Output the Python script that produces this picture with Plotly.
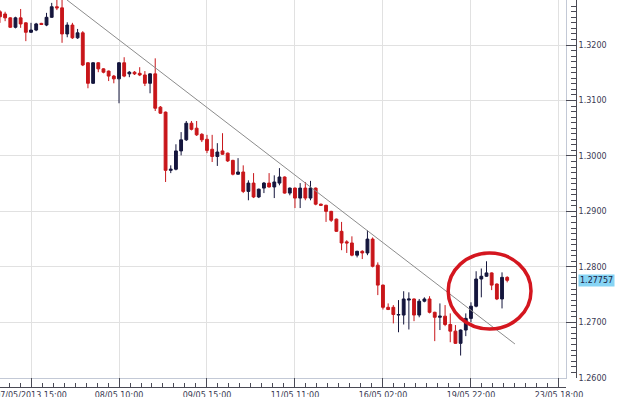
import plotly.graph_objects as go

# ---- data ----
open_ = [1.3260,1.3256,1.3249,1.3232,1.3249,1.3240,1.3223,1.3227,1.3239,1.3236,
         1.3250,1.3269,1.3267,1.3220,1.3236,1.3213,1.3222,1.3168,1.3131,1.3168,
         1.3157,1.3153,1.3144,1.3139,1.3168,1.3148,1.3151,1.3149,1.3146,1.3131,
         1.3148,1.3088,1.3079,1.2974,1.2976,1.3009,1.3029,1.3059,1.3050,1.3039,
         1.3030,1.3012,1.2999,1.3009,1.3005,1.2992,1.2967,1.2971,1.2936,1.2951,
         1.2926,1.2942,1.2951,1.2944,1.2951,1.2962,1.2933,1.2942,1.2924,1.2942,
         1.2924,1.2942,1.2913,1.2911,1.2900,1.2886,1.2864,1.2845,1.2843,1.2821,
         1.2828,1.2825,1.2850,1.2803,1.2767,1.2727,1.2727,1.2713,1.2713,1.2740,
         1.2742,1.2713,1.2738,1.2742,1.2718,1.2709,1.2711,1.2696,1.2684,1.2662,
         1.2686,1.2707,1.2729,1.2778,1.2783,1.2789,1.2769,1.2742,1.2781]
high = [1.3263,1.3260,1.3250,1.3251,1.3265,1.3241,1.3240,1.3240,1.3240,1.3258,
        1.3276,1.3285,1.3284,1.3241,1.3240,1.3229,1.3225,1.3169,1.3169,1.3169,
        1.3158,1.3154,1.3146,1.3169,1.3178,1.3153,1.3153,1.3160,1.3153,1.3149,
        1.3176,1.3090,1.3080,1.2983,1.3021,1.3043,1.3063,1.3063,1.3063,1.3041,
        1.3038,1.3038,1.3023,1.3041,1.3006,1.2993,1.2996,1.2983,1.2956,1.2969,
        1.2941,1.2953,1.2969,1.2965,1.2978,1.2963,1.2943,1.2943,1.2951,1.2953,
        1.2955,1.2943,1.2914,1.2912,1.2901,1.2887,1.2881,1.2848,1.2855,1.2829,
        1.2830,1.2866,1.2853,1.2808,1.2768,1.2734,1.2731,1.2740,1.2756,1.2754,
        1.2743,1.2742,1.2745,1.2747,1.2719,1.2734,1.2731,1.2716,1.2695,1.2687,
        1.2716,1.2736,1.2792,1.2797,1.2810,1.2790,1.2770,1.2790,1.2783]
low = [1.3240,1.3243,1.3231,1.3230,1.3231,1.3207,1.3222,1.3225,1.3236,1.3234,
       1.3249,1.3263,1.3204,1.3214,1.3211,1.3211,1.3162,1.3122,1.3130,1.3151,
       1.3149,1.3135,1.3131,1.3095,1.3142,1.3142,1.3146,1.3144,1.3126,1.3113,
       1.3081,1.3076,1.2953,1.2969,1.2974,1.3001,1.3027,1.3046,1.3036,1.3025,
       1.3005,1.2989,1.2982,1.3002,1.2989,1.2965,1.2966,1.2933,1.2920,1.2924,
       1.2924,1.2933,1.2943,1.2924,1.2947,1.2932,1.2929,1.2906,1.2906,1.2920,
       1.2920,1.2911,1.2910,1.2881,1.2881,1.2863,1.2830,1.2825,1.2819,1.2817,
       1.2814,1.2821,1.2799,1.2749,1.2723,1.2722,1.2698,1.2682,1.2696,1.2687,
       1.2702,1.2709,1.2736,1.2716,1.2666,1.2686,1.2693,1.2664,1.2661,1.2640,
       1.2675,1.2700,1.2727,1.2745,1.2782,1.2758,1.2740,1.2725,1.2772]
close = [1.3251,1.3249,1.3232,1.3249,1.3238,1.3223,1.3227,1.3238,1.3237,1.3250,
         1.3269,1.3267,1.3220,1.3236,1.3213,1.3222,1.3164,1.3131,1.3168,1.3157,
         1.3151,1.3144,1.3139,1.3168,1.3144,1.3151,1.3148,1.3146,1.3131,1.3148,
         1.3086,1.3077,1.2974,1.2976,1.3009,1.3029,1.3059,1.3048,1.3038,1.3029,
         1.3010,1.2999,1.3007,1.3003,1.2991,1.2967,1.2971,1.2936,1.2951,1.2926,
         1.2940,1.2951,1.2944,1.2953,1.2962,1.2933,1.2942,1.2924,1.2942,1.2924,
         1.2942,1.2913,1.2911,1.2900,1.2884,1.2864,1.2843,1.2843,1.2821,1.2828,
         1.2825,1.2850,1.2801,1.2767,1.2727,1.2723,1.2714,1.2714,1.2742,1.2742,
         1.2713,1.2738,1.2742,1.2718,1.2709,1.2711,1.2696,1.2684,1.2662,1.2686,
         1.2707,1.2729,1.2778,1.2783,1.2789,1.2767,1.2742,1.2781,1.27757]
candle_index = list(range(len(close)))

x_tick_index = [6, 23, 40, 57, 74, 91, 108]
x_tick_text = ["07/05/2013 15:00", "08/05 10:00", "09/05 15:00", "11/05 11:00",
               "16/05 02:00", "19/05 22:00", "23/05 18:00"]
y_tick_values = [1.26, 1.27, 1.28, 1.29, 1.30, 1.31, 1.32]
last_price = 1.27757
trend_start = (12.96, 1.32812)
trend_end = (99.5, 1.26608)
circle_box = (86.6, 1.28249, 102.6, 1.26878)

# ---- styles ----
RED = "#c8161a"
NAVY = "#15163d"
GRID = "#e1e1e1"
FRAME = "#c3c9d6"
AXIS = "#4a4a55"
LABEL = "#3a3a52"
FONT = "DejaVu Sans"
XRANGE = [0.01, 109.36]
YRANGE = [1.25995, 1.32812]
W, H = 625, 397

fig = go.Figure()
fig.add_trace(go.Candlestick(
    x=candle_index, open=open_, high=high, low=low, close=close,
    increasing=dict(line=dict(color=NAVY, width=1), fillcolor=NAVY),
    decreasing=dict(line=dict(color=RED, width=1), fillcolor=RED),
    whiskerwidth=0, showlegend=False, hoverinfo="skip"))
# empty trace to bind the outer tick axes
fig.add_trace(go.Scatter(x=[], y=[], xaxis="x2", yaxis="y2", showlegend=False))

fig.add_shape(type="line", xref="x", yref="y",
              x0=trend_start[0], y0=trend_start[1], x1=trend_end[0], y1=trend_end[1],
              line=dict(color="#8c8c8c", width=1))
fig.add_shape(type="circle", xref="x", yref="y",
              x0=circle_box[0], y0=circle_box[1], x1=circle_box[2], y1=circle_box[3],
              line=dict(color="#d4161f", width=3.5))

fig.add_annotation(x=578 / W, xref="paper", y=last_price, yref="y",
                   text=f"{last_price:.5f}", showarrow=False, xanchor="left",
                   yanchor="middle", bgcolor="#86d4f4", borderpad=1,
                   font=dict(family=FONT, size=8, color="#1a2040"))

fig.update_layout(
    width=W, height=H, margin=dict(l=0, r=0, t=0, b=0, autoexpand=False),
    paper_bgcolor="white", plot_bgcolor="white", boxgap=0.22,
    xaxis=dict(domain=[0, 566 / W], range=XRANGE, rangeslider=dict(visible=False),
               tickmode="array", tickvals=x_tick_index, showticklabels=False,
               ticks="", showgrid=True, gridcolor=GRID, gridwidth=1, automargin=False,
               showline=True, linecolor=FRAME, linewidth=1, zeroline=False),
    yaxis=dict(domain=[(H - 378) / H, 1], range=YRANGE, tickmode="array",
               tickvals=y_tick_values, showticklabels=False, ticks="", automargin=False,
               showgrid=True, gridcolor=GRID, gridwidth=1, side="right",
               showline=True, linecolor=FRAME, linewidth=1, zeroline=False),
    xaxis2=dict(overlaying="x", anchor="free", position=(H - 387) / H,
                range=XRANGE, showgrid=False, zeroline=False, automargin=False,
                tickmode="array", tickvals=x_tick_index, ticktext=x_tick_text,
                ticks="inside", ticklen=9, tickcolor=AXIS, tickwidth=1,
                ticklabeloverflow="allow",
                minor=dict(tickmode="linear", tick0=6, dtick=17 / 8, ticks="inside",
                           ticklen=4, tickcolor=AXIS, showgrid=False),
                showline=True, linecolor=AXIS, linewidth=1,
                tickfont=dict(family=FONT, size=8, color=LABEL)),
    yaxis2=dict(overlaying="y", anchor="free", side="right", position=576 / W,
                range=YRANGE, showgrid=False, zeroline=False, automargin=False,
                tickmode="array", tickvals=y_tick_values,
                ticktext=[f"{v:.4f}" for v in y_tick_values],
                ticks="inside", ticklen=10, tickcolor=AXIS, tickwidth=1,
                minor=dict(tickmode="linear", tick0=1.26, dtick=0.001, ticks="inside",
                           ticklen=5, tickcolor=AXIS, showgrid=False),
                showline=True, linecolor=AXIS, linewidth=1,
                tickfont=dict(family=FONT, size=8, color=LABEL)),
)

fig.write_html("out.html")
